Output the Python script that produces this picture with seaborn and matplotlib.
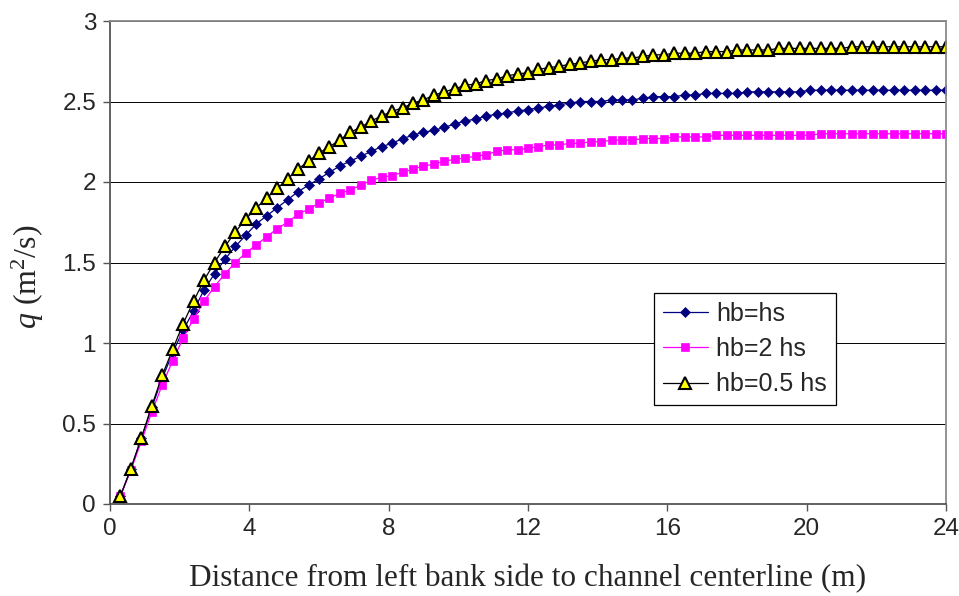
import matplotlib
matplotlib.use("Agg")
import matplotlib.pyplot as plt
import numpy as np
import pandas as pd
import seaborn as sns

# Distance from the left bank (m): stations every 0.3 m up to the centerline
distance = [round(0.3 * k, 1) for k in range(1, 81)]

# Unit discharge q (m^2/s) for each bank/channel depth ratio
q_hb_hs = [
    0.05, 0.22, 0.41, 0.60, 0.78, 0.94, 1.08, 1.20, 1.33, 1.43,
    1.52, 1.60, 1.67, 1.74, 1.79, 1.84, 1.89, 1.94, 1.98, 2.02,
    2.06, 2.10, 2.13, 2.16, 2.19, 2.22, 2.24, 2.27, 2.29, 2.31,
    2.32, 2.34, 2.36, 2.38, 2.39, 2.41, 2.42, 2.43, 2.44, 2.45,
    2.46, 2.47, 2.48, 2.49, 2.50, 2.50, 2.50, 2.51, 2.51, 2.51,
    2.52, 2.53, 2.53, 2.53, 2.54, 2.54, 2.55, 2.55, 2.55, 2.55,
    2.56, 2.56, 2.56, 2.56, 2.56, 2.56, 2.57, 2.57, 2.57, 2.57,
    2.57, 2.57, 2.57, 2.57, 2.57, 2.57, 2.57, 2.57, 2.57, 2.57,
]
q_hb_2hs = [
    0.05, 0.21, 0.39, 0.57, 0.74, 0.89, 1.03, 1.15, 1.26, 1.35,
    1.43, 1.50, 1.56, 1.61, 1.66, 1.71, 1.75, 1.80, 1.83, 1.87,
    1.90, 1.93, 1.95, 1.98, 2.01, 2.03, 2.04, 2.06, 2.08, 2.10,
    2.11, 2.13, 2.14, 2.15, 2.16, 2.17, 2.19, 2.20, 2.20, 2.21,
    2.22, 2.23, 2.23, 2.24, 2.24, 2.25, 2.25, 2.26, 2.26, 2.26,
    2.27, 2.27, 2.27, 2.28, 2.28, 2.28, 2.28, 2.29, 2.29, 2.29,
    2.29, 2.29, 2.29, 2.29, 2.29, 2.29, 2.29, 2.30, 2.30, 2.30,
    2.30, 2.30, 2.30, 2.30, 2.30, 2.30, 2.30, 2.30, 2.30, 2.30,
]
q_hb_05hs = [
    0.05, 0.22, 0.41, 0.61, 0.80, 0.96, 1.12, 1.26, 1.39, 1.50,
    1.60, 1.69, 1.77, 1.84, 1.90, 1.96, 2.02, 2.08, 2.13, 2.18,
    2.22, 2.26, 2.31, 2.34, 2.38, 2.41, 2.44, 2.46, 2.49, 2.51,
    2.54, 2.56, 2.58, 2.60, 2.61, 2.63, 2.64, 2.66, 2.67, 2.68,
    2.70, 2.71, 2.72, 2.73, 2.74, 2.75, 2.76, 2.76, 2.77, 2.77,
    2.78, 2.79, 2.79, 2.80, 2.80, 2.80, 2.81, 2.81, 2.81, 2.82,
    2.82, 2.82, 2.82, 2.83, 2.83, 2.83, 2.83, 2.83, 2.83, 2.83,
    2.84, 2.84, 2.84, 2.84, 2.84, 2.84, 2.84, 2.84, 2.84, 2.84,
]

series_names = ["hb=hs", "hb=2 hs", "hb=0.5 hs"]
x_ticks = [0, 4, 8, 12, 16, 20, 24]
y_ticks = [0, 0.5, 1, 1.5, 2, 2.5, 3]
y_tick_labels = ["0", "0.5", "1", "1.5", "2", "2.5", "3"]

df = pd.DataFrame({
    "distance": distance * 3,
    "q": q_hb_hs + q_hb_2hs + q_hb_05hs,
    "case": [series_names[0]] * 80 + [series_names[1]] * 80 + [series_names[2]] * 80,
})

sns.set_style("white")
plt.rcParams["font.family"] = ["Liberation Sans", "DejaVu Sans"]
plt.rcParams["mathtext.fontset"] = "custom"
plt.rcParams["mathtext.rm"] = "Liberation Serif"
plt.rcParams["mathtext.it"] = "Liberation Serif:italic"

fig = plt.figure(figsize=(9.59, 5.96), dpi=100)
ax = fig.add_axes([110 / 959, 1 - 504 / 596, 836 / 959, 483 / 596])

styles = {
    "hb=hs": dict(color="#000080", marker="D", markersize=5.5,
                  markerfacecolor="#000080", markeredgecolor="#000080",
                  markeredgewidth=0.5, linewidth=0.9),
    "hb=2 hs": dict(color="#FF00FF", marker="s", markersize=6,
                    markerfacecolor="#FF00FF", markeredgecolor="#FF00FF",
                    markeredgewidth=0.5, linewidth=0.9),
    "hb=0.5 hs": dict(color="#000000", marker="^", markersize=9,
                      markerfacecolor="#FFFF00", markeredgecolor="#000000",
                      markeredgewidth=1.5, linewidth=0.9),
}

for name in series_names:
    sub = df[df["case"] == name]
    sns.lineplot(data=sub, x="distance", y="q", ax=ax, label=name,
                 errorbar=None, sort=False, **styles[name])

ax.set_xlim(0, 24)
ax.set_ylim(0, 3)
ax.set_xticks(x_ticks)
ax.set_yticks(y_ticks)
ax.set_yticklabels(y_tick_labels)
ax.yaxis.grid(True, color="#000000", linewidth=0.7)
ax.xaxis.grid(False)
ax.set_axisbelow(True)

for side in ["left", "bottom"]:
    ax.spines[side].set_color("#555555")
    ax.spines[side].set_linewidth(1.3)
for side in ["top", "right"]:
    ax.spines[side].set_color("#8a8a8a")
    ax.spines[side].set_linewidth(1.3)

ax.tick_params(axis="both", which="major", direction="out", length=5,
               width=1, color="#555555", labelsize=17.5, pad=5,
               left=True, bottom=True)

ax.set_xlabel("Distance from left bank side to channel centerline (m)",
              fontsize=22.5, family="Liberation Serif", labelpad=17)
ax.set_ylabel("$q$ (m$^2$/s)", fontsize=23, family="Liberation Serif")
ax.yaxis.set_label_coords(-0.076, 0.47)

leg = ax.legend(loc="upper left", bbox_to_anchor=(654 / 959, 1 - 293 / 596),
                bbox_transform=fig.transFigure, borderaxespad=0,
                fontsize=18, frameon=True, fancybox=False, framealpha=1,
                edgecolor="#000000", handlelength=1.8, handletextpad=0.35,
                borderpad=0.35, labelspacing=0.45)
leg.get_frame().set_linewidth(0.9)

fig.savefig("out.png", dpi=100, facecolor="white")
